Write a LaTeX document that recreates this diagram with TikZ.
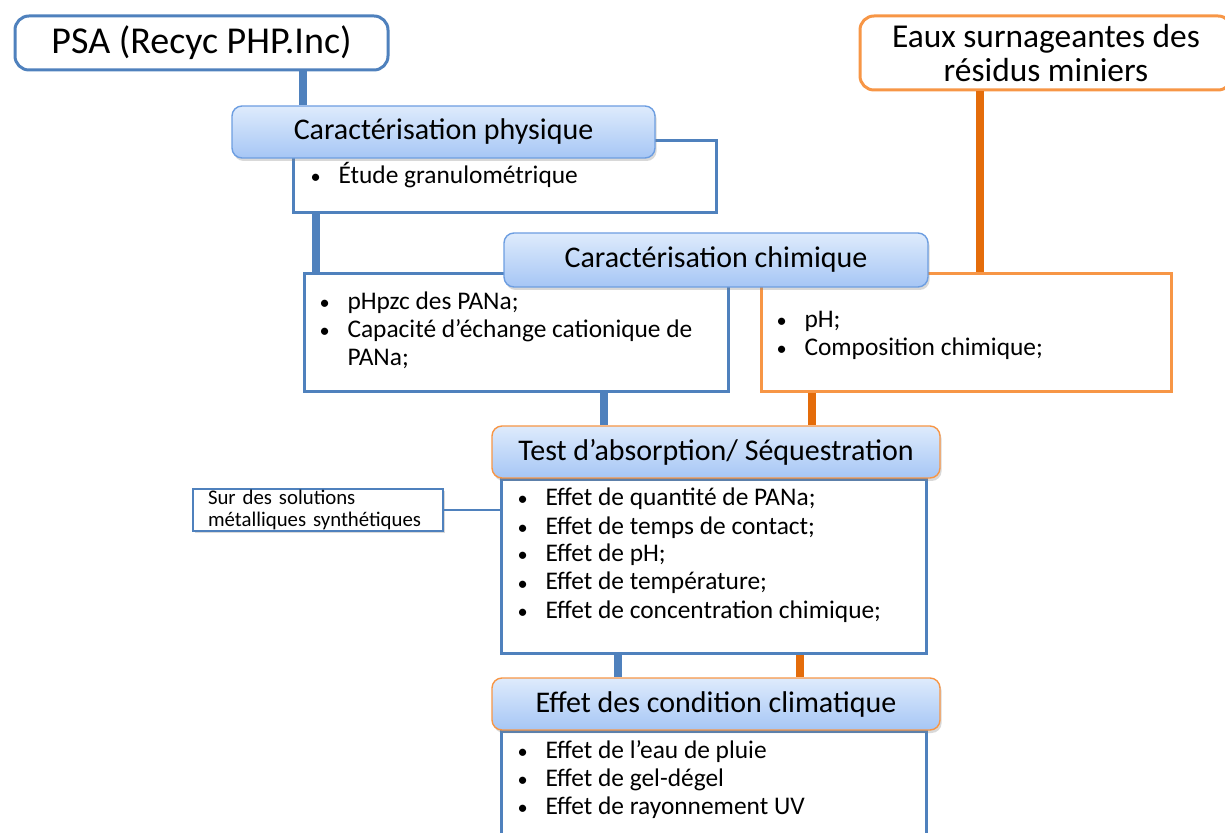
\documentclass[tikz,border=0pt]{standalone}
\usepackage{fontspec}
\setmainfont{Carlito}
\usepackage{xcolor}
\usepackage{tikz}
\usetikzlibrary{positioning, calc, shadows}
\definecolor{boxblue}{RGB}{79, 129, 189}
\definecolor{boxorange}{RGB}{247, 150, 70}
\definecolor{linkorange}{RGB}{228, 108, 10}
\definecolor{headtop}{RGB}{222, 235, 252}
\definecolor{headbottom}{RGB}{166, 198, 245}
\definecolor{headline}{RGB}{109, 158, 225}
\newcommand{\itembullet}{\scalebox{0.8}{\textbullet}}

\begin{document}
\begin{tikzpicture}[
    x=0.5pt, y=-0.5pt,
    line width=1.5pt,
    topbox/.style={rounded corners=7pt, fill=white, align=center, inner sep=0pt},
    header/.style={rounded corners=5pt, line width=0.7pt, top color=headtop, bottom color=headbottom,
        drop shadow={opacity=0.3, shadow xshift=0.8pt, shadow yshift=-1.5pt},
        inner sep=0pt, minimum height=26pt, font=\fontsize{15}{17}\selectfont},
    body/.style={draw=boxblue, fill=white, anchor=north west, inner sep=0pt},
    list/.style={anchor=base west, inner sep=0pt, font=\fontsize{12.7}{14}\selectfont},
    bluelink/.style={boxblue, line width=4pt},
    orangelink/.style={linkorange, line width=4pt},
]
    \clip (0,0) rectangle (1225,833);

    % --- TOP: sources ---
    \node[topbox, draw=boxblue, minimum width=186.5pt, minimum height=27pt, font=\fontsize{19}{21}\selectfont] (psa) at (201.5,43) {PSA (Recyc PHP.Inc)};
    \node[topbox, draw=boxorange, minimum width=186pt, minimum height=37pt, font=\fontsize{16.7}{17}\selectfont] (eaux) at (1046,53) {Eaux surnageantes des\\résidus miniers};

    % --- physical characterisation ---
    \node[body, minimum width=211.5pt, minimum height=36pt] (physbody) at (292,139) {};
    \node[header, draw=headline, minimum width=211.5pt] (physh) at (443.5,132) {Caractérisation physique};
    \node[list] (physlist) at (309,184) {\begin{tabular}[t]{@{}p{14pt}@{}l@{}}
        \itembullet & Étude granulométrique
    \end{tabular}};

    % --- chemical characterisation ---
    \node[body, minimum width=212pt, minimum height=59pt] (chimL) at (303,272) {};
    \node[body, draw=boxorange, minimum width=205pt, minimum height=59pt] (chimR) at (760,272) {};
    \node[header, draw=headline, minimum width=212pt, minimum height=27pt] (chimh) at (716,260) {Caractérisation chimique};
    \node[list] (chimLlist) at (318,310) {\begin{tabular}[t]{@{}p{14pt}@{}l@{}}
        \itembullet & pHpzc des PANa;\\
        \itembullet & Capacité d’échange cationique de\\
                    & PANa;
    \end{tabular}};
    \node[list] (chimRlist) at (775,328) {\begin{tabular}[t]{@{}p{14pt}@{}l@{}}
        \itembullet & pH;\\
        \itembullet & Composition chimique;
    \end{tabular}};

    % --- sorption test ---
    \node[body, minimum width=212.5pt, minimum height=87pt] (testbody) at (500,478) {};
    \node[header, draw=boxorange, minimum width=224pt] (testh) at (716,452) {Test d’absorption/ Séquestration};
    \node[list] (testlist) at (516,506) {\begin{tabular}[t]{@{}p{14pt}@{}l@{}}
        \itembullet & Effet de quantité de PANa;\\
        \itembullet & Effet de temps de contact;\\
        \itembullet & Effet de pH;\\
        \itembullet & Effet de température;\\
        \itembullet & Effet de concentration chimique;
    \end{tabular}};
    \node[draw=boxblue, line width=0.8pt, fill=white, drop shadow={opacity=0.3, shadow xshift=0.8pt, shadow yshift=-1.2pt},
        minimum width=125pt, minimum height=21pt, text width=110pt, align=left, inner xsep=7.5pt, inner ysep=0pt,
        font=\fontsize{10.4}{11}\selectfont] (note) at (318,510) {Sur des solutions\\métalliques synthétiques};

    % --- climatic conditions ---
    \node[body, minimum width=212.5pt, minimum height=70pt] (climbody) at (500,730) {};
    \node[header, draw=boxorange, minimum width=224pt] (climh) at (716,704) {Effet des condition climatique};
    \node[list] (climlist) at (516,758) {\begin{tabular}[t]{@{}p{14pt}@{}l@{}}
        \itembullet & Effet de l’eau de pluie\\
        \itembullet & Effet de gel-dégel\\
        \itembullet & Effet de rayonnement UV
    \end{tabular}};

    % --- links ---
    \draw[bluelink] (psa.south -| 303,0) -- (physh.north -| 303,0);
    \draw[bluelink] (physbody.south -| 316,0) -- (chimL.north -| 316,0);
    \draw[orangelink] (eaux.south -| 980,0) -- (chimR.north -| 980,0);
    \draw[bluelink] (chimL.south -| 604,0) -- (testh.north -| 604,0);
    \draw[orangelink] (chimR.south -| 812,0) -- (testh.north -| 812,0);
    \draw[bluelink] (testbody.south -| 618,0) -- (climh.north -| 618,0);
    \draw[orangelink] (testbody.south -| 800,0) -- (climh.north -| 800,0);
    \draw[boxblue, line width=0.8pt] (note.east) -- (note.east -| testbody.west);
\end{tikzpicture}
\end{document}
